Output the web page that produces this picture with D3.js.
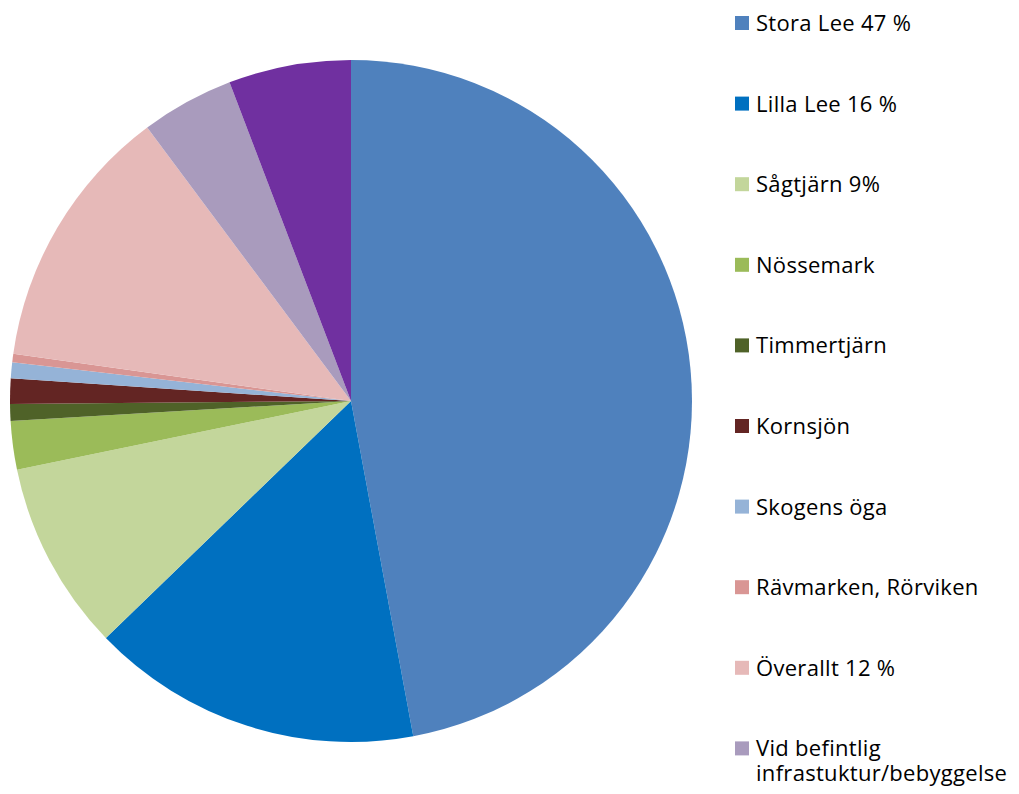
<!DOCTYPE html>
<html lang="sv">
  <head>
    <meta charset="UTF-8" />
    <title>Pie</title>
    <script src="https://cdn.jsdelivr.net/npm/d3@7"></script>
    <style>
      body {
        margin: 0;
        padding: 0;
        background: #fff;
      }
    </style>
  </head>

  <body>
    <svg width="1019" height="794"></svg>

    <script>
      // data (percent of the whole)
      var categories = [
        'Stora Lee 47 %',
        'Lilla Lee 16 %',
        'Sågtjärn 9%',
        'Nössemark',
        'Timmertjärn',
        'Kornsjön',
        'Skogens öga',
        'Rävmarken, Rörviken',
        'Överallt 12 %',
        'Vid befintlig infrastuktur/bebyggelse',
        'Övrigt',
      ]
      var values = [47.1, 15.7, 9.0, 2.3, 0.8, 1.2, 0.75, 0.4, 12.6, 4.4, 5.8]
      var colors = [
        '#4F81BD',
        '#0070C0',
        '#C3D69B',
        '#9BBB59',
        '#4F6228',
        '#632523',
        '#95B3D7',
        '#D99694',
        '#E6B9B8',
        '#A99BBD',
        '#7030A0',
      ]

      var svg = d3.select('svg')
      var height = +svg.attr('height')
      var cx = 351
      var cy = 401
      var radius = 341

      var pie = d3
        .pie()
        .sort(null)
        .value((d) => d)
      var arc = d3.arc().innerRadius(0).outerRadius(radius)
      var color = d3.scaleOrdinal().domain(d3.range(values.length)).range(colors)

      var g = svg.append('g').attr('transform', `translate(${cx}, ${cy})`)

      g.selectAll('path')
        .data(pie(values))
        .enter()
        .append('path')
        .attr('d', arc)
        .attr('fill', (d, i) => color(i))

      // legend on the right
      var legend = svg.append('g').attr('transform', 'translate(735, 0)')
      var rowStep = 80.6
      var firstBase = 31
      // the last entry falls below the picture, so it is not drawn
      var shown = categories.filter((d, i) => firstBase + i * rowStep < height)

      var items = legend
        .selectAll('.item')
        .data(shown)
        .enter()
        .append('g')
        .attr('class', 'item')
        .attr('transform', (d, i) => `translate(0, ${firstBase + i * rowStep})`)

      items
        .append('rect')
        .attr('x', 0)
        .attr('y', -15)
        .attr('width', 14)
        .attr('height', 14)
        .attr('fill', (d, i) => color(i))

      items
        .append('text')
        .attr('x', 21)
        .attr('y', 0)
        .style('font-family', '"Open Sans", sans-serif')
        .style('font-size', '22px')
        .style('letter-spacing', '0.3px')
        .style('fill', '#000')
        .each(function (d) {
          var t = d3.select(this)
          // the long label wraps after "befintlig"
          var lines = d.startsWith('Vid befintlig')
            ? ['Vid befintlig', 'infrastuktur/bebyggelse']
            : [d]
          lines.forEach((line, k) => {
            t.append('tspan')
              .attr('x', 21)
              .attr('dy', k == 0 ? 0 : 25)
              .text(line)
          })
        })
    </script>
  </body>
</html>
